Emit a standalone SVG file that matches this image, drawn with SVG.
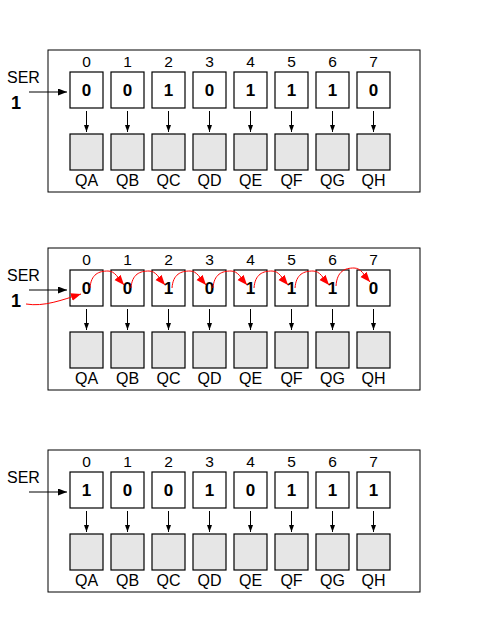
<svg xmlns="http://www.w3.org/2000/svg" width="480" height="640" viewBox="0 0 480 640">
<style>
text{font-family:"Liberation Sans",Arial,sans-serif;fill:#000}
.panel{fill:#fff;stroke:#000;stroke-width:1}
.reg{fill:#fff;stroke:#000;stroke-width:1.2}
.out{fill:#e6e6e6;stroke:#000;stroke-width:1.2}
.idx{font-size:15.5px;text-anchor:middle}
.val{font-size:17px;font-weight:bold;text-anchor:middle}
.q{font-size:16px;text-anchor:middle}
.ser{font-size:16px}
.one{font-size:18px;font-weight:bold}
.ln{stroke:#000;stroke-width:1;fill:none}
.red{stroke:#f00;stroke-width:1;fill:none}
</style>
<defs>
<marker id="ah" markerUnits="userSpaceOnUse" markerWidth="10" markerHeight="8" refX="9" refY="3.5" orient="auto"><path d="M0,0 L9,3.5 L0,7 z" fill="#000"/></marker>
<marker id="ahs" markerUnits="userSpaceOnUse" markerWidth="8" markerHeight="6" refX="7" refY="2.5" orient="auto"><path d="M0,0 L7,2.5 L0,5 z" fill="#000"/></marker>
<marker id="ahr" markerUnits="userSpaceOnUse" markerWidth="11" markerHeight="9" refX="10" refY="4" orient="auto"><path d="M0,0 L10,4 L0,8 z" fill="#f00"/></marker>
</defs>

<!-- Panel 1 -->
<g id="panel1">
<rect class="panel" x="48" y="50" width="372" height="142"/>
<text class="ser" x="7" y="83">SER</text>
<text class="one" x="11" y="109">1</text>
<g id="p1-r0"><text class="idx" x="86.5" y="67">0</text><rect class="reg" x="70" y="72" width="33" height="36"/><text class="val" x="86.5" y="96">0</text></g>
<g id="p1-r1"><text class="idx" x="127.5" y="67">1</text><rect class="reg" x="111" y="72" width="33" height="36"/><text class="val" x="127.5" y="96">0</text></g>
<g id="p1-r2"><text class="idx" x="168.5" y="67">2</text><rect class="reg" x="152" y="72" width="33" height="36"/><text class="val" x="168.5" y="96">1</text></g>
<g id="p1-r3"><text class="idx" x="209.5" y="67">3</text><rect class="reg" x="193" y="72" width="33" height="36"/><text class="val" x="209.5" y="96">0</text></g>
<g id="p1-r4"><text class="idx" x="250.5" y="67">4</text><rect class="reg" x="234" y="72" width="33" height="36"/><text class="val" x="250.5" y="96">1</text></g>
<g id="p1-r5"><text class="idx" x="291.5" y="67">5</text><rect class="reg" x="275" y="72" width="33" height="36"/><text class="val" x="291.5" y="96">1</text></g>
<g id="p1-r6"><text class="idx" x="332.5" y="67">6</text><rect class="reg" x="316" y="72" width="33" height="36"/><text class="val" x="332.5" y="96">1</text></g>
<g id="p1-r7"><text class="idx" x="373.5" y="67">7</text><rect class="reg" x="357" y="72" width="33" height="36"/><text class="val" x="373.5" y="96">0</text></g>
<g id="p1-qa"><rect class="out" x="70" y="134" width="33" height="36"/><text class="q" x="86.5" y="186">QA</text></g>
<g id="p1-qb"><rect class="out" x="111" y="134" width="33" height="36"/><text class="q" x="127.5" y="186">QB</text></g>
<g id="p1-qc"><rect class="out" x="152" y="134" width="33" height="36"/><text class="q" x="168.5" y="186">QC</text></g>
<g id="p1-qd"><rect class="out" x="193" y="134" width="33" height="36"/><text class="q" x="209.5" y="186">QD</text></g>
<g id="p1-qe"><rect class="out" x="234" y="134" width="33" height="36"/><text class="q" x="250.5" y="186">QE</text></g>
<g id="p1-qf"><rect class="out" x="275" y="134" width="33" height="36"/><text class="q" x="291.5" y="186">QF</text></g>
<g id="p1-qg"><rect class="out" x="316" y="134" width="33" height="36"/><text class="q" x="332.5" y="186">QG</text></g>
<g id="p1-qh"><rect class="out" x="357" y="134" width="33" height="36"/><text class="q" x="373.5" y="186">QH</text></g>
</g>

<!-- Panel 2 -->
<g id="panel2">
<rect class="panel" x="48" y="248" width="372" height="142"/>
<text class="ser" x="7" y="281">SER</text>
<text class="one" x="11" y="307">1</text>
<g id="p2-r0"><text class="idx" x="86.5" y="265">0</text><rect class="reg" x="70" y="270" width="33" height="36"/><text class="val" x="86.5" y="294">0</text></g>
<g id="p2-r1"><text class="idx" x="127.5" y="265">1</text><rect class="reg" x="111" y="270" width="33" height="36"/><text class="val" x="127.5" y="294">0</text></g>
<g id="p2-r2"><text class="idx" x="168.5" y="265">2</text><rect class="reg" x="152" y="270" width="33" height="36"/><text class="val" x="168.5" y="294">1</text></g>
<g id="p2-r3"><text class="idx" x="209.5" y="265">3</text><rect class="reg" x="193" y="270" width="33" height="36"/><text class="val" x="209.5" y="294">0</text></g>
<g id="p2-r4"><text class="idx" x="250.5" y="265">4</text><rect class="reg" x="234" y="270" width="33" height="36"/><text class="val" x="250.5" y="294">1</text></g>
<g id="p2-r5"><text class="idx" x="291.5" y="265">5</text><rect class="reg" x="275" y="270" width="33" height="36"/><text class="val" x="291.5" y="294">1</text></g>
<g id="p2-r6"><text class="idx" x="332.5" y="265">6</text><rect class="reg" x="316" y="270" width="33" height="36"/><text class="val" x="332.5" y="294">1</text></g>
<g id="p2-r7"><text class="idx" x="373.5" y="265">7</text><rect class="reg" x="357" y="270" width="33" height="36"/><text class="val" x="373.5" y="294">0</text></g>
<g id="p2-qa"><rect class="out" x="70" y="332" width="33" height="36"/><text class="q" x="86.5" y="384">QA</text></g>
<g id="p2-qb"><rect class="out" x="111" y="332" width="33" height="36"/><text class="q" x="127.5" y="384">QB</text></g>
<g id="p2-qc"><rect class="out" x="152" y="332" width="33" height="36"/><text class="q" x="168.5" y="384">QC</text></g>
<g id="p2-qd"><rect class="out" x="193" y="332" width="33" height="36"/><text class="q" x="209.5" y="384">QD</text></g>
<g id="p2-qe"><rect class="out" x="234" y="332" width="33" height="36"/><text class="q" x="250.5" y="384">QE</text></g>
<g id="p2-qf"><rect class="out" x="275" y="332" width="33" height="36"/><text class="q" x="291.5" y="384">QF</text></g>
<g id="p2-qg"><rect class="out" x="316" y="332" width="33" height="36"/><text class="q" x="332.5" y="384">QG</text></g>
<g id="p2-qh"><rect class="out" x="357" y="332" width="33" height="36"/><text class="q" x="373.5" y="384">QH</text></g>
</g>

<!-- Panel 3 -->
<g id="panel3">
<rect class="panel" x="48" y="450" width="372" height="142"/>
<text class="ser" x="7" y="483">SER</text>
<g id="p3-r0"><text class="idx" x="86.5" y="467">0</text><rect class="reg" x="70" y="472" width="33" height="36"/><text class="val" x="86.5" y="496">1</text></g>
<g id="p3-r1"><text class="idx" x="127.5" y="467">1</text><rect class="reg" x="111" y="472" width="33" height="36"/><text class="val" x="127.5" y="496">0</text></g>
<g id="p3-r2"><text class="idx" x="168.5" y="467">2</text><rect class="reg" x="152" y="472" width="33" height="36"/><text class="val" x="168.5" y="496">0</text></g>
<g id="p3-r3"><text class="idx" x="209.5" y="467">3</text><rect class="reg" x="193" y="472" width="33" height="36"/><text class="val" x="209.5" y="496">1</text></g>
<g id="p3-r4"><text class="idx" x="250.5" y="467">4</text><rect class="reg" x="234" y="472" width="33" height="36"/><text class="val" x="250.5" y="496">0</text></g>
<g id="p3-r5"><text class="idx" x="291.5" y="467">5</text><rect class="reg" x="275" y="472" width="33" height="36"/><text class="val" x="291.5" y="496">1</text></g>
<g id="p3-r6"><text class="idx" x="332.5" y="467">6</text><rect class="reg" x="316" y="472" width="33" height="36"/><text class="val" x="332.5" y="496">1</text></g>
<g id="p3-r7"><text class="idx" x="373.5" y="467">7</text><rect class="reg" x="357" y="472" width="33" height="36"/><text class="val" x="373.5" y="496">1</text></g>
<g id="p3-qa"><rect class="out" x="70" y="534" width="33" height="36"/><text class="q" x="86.5" y="586">QA</text></g>
<g id="p3-qb"><rect class="out" x="111" y="534" width="33" height="36"/><text class="q" x="127.5" y="586">QB</text></g>
<g id="p3-qc"><rect class="out" x="152" y="534" width="33" height="36"/><text class="q" x="168.5" y="586">QC</text></g>
<g id="p3-qd"><rect class="out" x="193" y="534" width="33" height="36"/><text class="q" x="209.5" y="586">QD</text></g>
<g id="p3-qe"><rect class="out" x="234" y="534" width="33" height="36"/><text class="q" x="250.5" y="586">QE</text></g>
<g id="p3-qf"><rect class="out" x="275" y="534" width="33" height="36"/><text class="q" x="291.5" y="586">QF</text></g>
<g id="p3-qg"><rect class="out" x="316" y="534" width="33" height="36"/><text class="q" x="332.5" y="586">QG</text></g>
<g id="p3-qh"><rect class="out" x="357" y="534" width="33" height="36"/><text class="q" x="373.5" y="586">QH</text></g>
</g>

<!-- Connectors -->
<g id="connectors">
<line class="ln" x1="29" y1="92" x2="67" y2="92" marker-end="url(#ah)"/>
<line class="ln" x1="29" y1="290" x2="67" y2="290" marker-end="url(#ah)"/>
<line class="ln" x1="29" y1="492" x2="67" y2="492" marker-end="url(#ah)"/>
<g>
<line class="ln" x1="86.5" y1="111" x2="86.5" y2="132" marker-end="url(#ahs)"/>
<line class="ln" x1="127.5" y1="111" x2="127.5" y2="132" marker-end="url(#ahs)"/>
<line class="ln" x1="168.5" y1="111" x2="168.5" y2="132" marker-end="url(#ahs)"/>
<line class="ln" x1="209.5" y1="111" x2="209.5" y2="132" marker-end="url(#ahs)"/>
<line class="ln" x1="250.5" y1="111" x2="250.5" y2="132" marker-end="url(#ahs)"/>
<line class="ln" x1="291.5" y1="111" x2="291.5" y2="132" marker-end="url(#ahs)"/>
<line class="ln" x1="332.5" y1="111" x2="332.5" y2="132" marker-end="url(#ahs)"/>
<line class="ln" x1="373.5" y1="111" x2="373.5" y2="132" marker-end="url(#ahs)"/>
</g>
<g>
<line class="ln" x1="86.5" y1="309" x2="86.5" y2="330" marker-end="url(#ahs)"/>
<line class="ln" x1="127.5" y1="309" x2="127.5" y2="330" marker-end="url(#ahs)"/>
<line class="ln" x1="168.5" y1="309" x2="168.5" y2="330" marker-end="url(#ahs)"/>
<line class="ln" x1="209.5" y1="309" x2="209.5" y2="330" marker-end="url(#ahs)"/>
<line class="ln" x1="250.5" y1="309" x2="250.5" y2="330" marker-end="url(#ahs)"/>
<line class="ln" x1="291.5" y1="309" x2="291.5" y2="330" marker-end="url(#ahs)"/>
<line class="ln" x1="332.5" y1="309" x2="332.5" y2="330" marker-end="url(#ahs)"/>
<line class="ln" x1="373.5" y1="309" x2="373.5" y2="330" marker-end="url(#ahs)"/>
</g>
<g>
<line class="ln" x1="86.5" y1="511" x2="86.5" y2="532" marker-end="url(#ahs)"/>
<line class="ln" x1="127.5" y1="511" x2="127.5" y2="532" marker-end="url(#ahs)"/>
<line class="ln" x1="168.5" y1="511" x2="168.5" y2="532" marker-end="url(#ahs)"/>
<line class="ln" x1="209.5" y1="511" x2="209.5" y2="532" marker-end="url(#ahs)"/>
<line class="ln" x1="250.5" y1="511" x2="250.5" y2="532" marker-end="url(#ahs)"/>
<line class="ln" x1="291.5" y1="511" x2="291.5" y2="532" marker-end="url(#ahs)"/>
<line class="ln" x1="332.5" y1="511" x2="332.5" y2="532" marker-end="url(#ahs)"/>
<line class="ln" x1="373.5" y1="511" x2="373.5" y2="532" marker-end="url(#ahs)"/>
</g>

<g id="shift-arrows">
<path class="red" d="M26,304 C44,307 62,300 81,294" marker-end="url(#ahr)"/>
<path class="red" d="M90,288 C91,274 99,271 108,271 C115,271 118,278 124,285" marker-end="url(#ahr)"/>
<path class="red" d="M131,288 C132,274 140,271 149,271 C156,271 159,278 165,285" marker-end="url(#ahr)"/>
<path class="red" d="M172,288 C173,274 181,271 190,271 C197,271 200,278 206,285" marker-end="url(#ahr)"/>
<path class="red" d="M213,288 C214,274 222,271 231,271 C238,271 241,278 247,285" marker-end="url(#ahr)"/>
<path class="red" d="M254,288 C255,274 263,271 272,271 C279,271 282,278 288,285" marker-end="url(#ahr)"/>
<path class="red" d="M295,288 C296,274 304,271 313,271 C320,271 323,278 329,285" marker-end="url(#ahr)"/>
<path class="red" d="M336,286 C337,271 345,268 354,268 C361,268 364,275 370,282" marker-end="url(#ahr)"/>
</g>
</g>
</svg>
